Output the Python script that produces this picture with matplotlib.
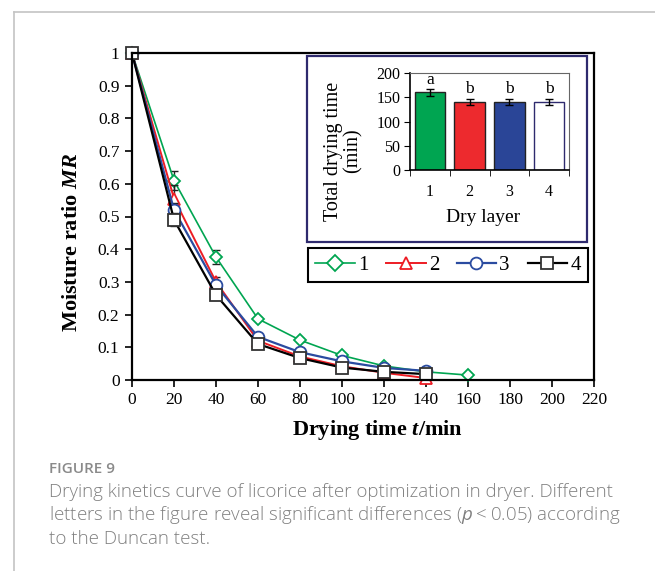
import numpy as np
import matplotlib
matplotlib.use('Agg')
import matplotlib.pyplot as plt
from matplotlib.patches import Rectangle
from matplotlib.lines import Line2D

plt.rcParams['font.family'] = ['Liberation Serif', 'DejaVu Serif']
plt.rcParams['mathtext.fontset'] = 'custom'
plt.rcParams['mathtext.bfit'] = 'Liberation Serif:bold:italic'
plt.rcParams['mathtext.it'] = 'Open Sans:italic'
plt.rcParams['mathtext.rm'] = 'Open Sans'

# drying curves
time = [0, 20, 40, 60, 80, 100, 120, 140, 160]
mr1 = [1, 0.61, 0.376, 0.187, 0.122, 0.075, 0.043, 0.025, 0.015]
mr2 = [1, 0.555, 0.30, 0.12, 0.072, 0.042, 0.022, 0.006]
mr3 = [1, 0.52, 0.29, 0.132, 0.085, 0.057, 0.037, 0.028]
mr4 = [1, 0.49, 0.26, 0.11, 0.067, 0.038, 0.025, 0.018]
err1 = [0, 0.03, 0.022, 0.005, 0.005, 0.004, 0.003, 0.002, 0.002]
err2 = [0, 0.04, 0.015, 0.005, 0.004, 0.003, 0.002, 0.002]
err3 = [0, 0.02, 0.01, 0.005, 0.004, 0.003, 0.002, 0.002]
err4 = [0, 0.02, 0.01, 0.005, 0.004, 0.003, 0.002, 0.002]
series = ['1', '2', '3', '4']

# inset bars
layers = [1, 2, 3, 4]
total_time = [160, 140, 140, 140]
total_err = [7, 7, 7, 7]
letters = ['a', 'b', 'b', 'b']

W, H = 655, 571
fig = plt.figure(figsize=(W / 100, H / 100), dpi=100)

def fx(px):
    return px / W

def fy(py):
    return 1 - py / H

# page border
fig.add_artist(Line2D([fx(14), fx(14)], [0, fy(12)], color='#c4c4c4', lw=1.2))
fig.add_artist(Line2D([fx(14), 1], [fy(12), fy(12)], color='#c4c4c4', lw=1.2))

ax = fig.add_axes([fx(132), fy(380), fx(594) - fx(132), fy(53) - fy(380)])

styles = [
    (mr1, err1, '#00a551', 'D', 1.2, 6.5),
    (mr2, err2, '#ed1c24', '^', 1.4, 8),
    (mr3, err3, '#2a4ba0', 'o', 1.6, 8.5),
    (mr4, err4, '#000000', 's', 1.6, 8),
]
for (mr, er, col, mk, lw, ms), name in zip(styles, series):
    x = time[:len(mr)]
    ax.errorbar(x, mr, yerr=er, fmt='none', ecolor='#222222', elinewidth=1, capsize=3,
                clip_on=False)
    ax.plot(x, mr, color=col, marker=mk, markersize=ms, lw=lw,
            markerfacecolor='white', markeredgecolor=col if col != '#000000' else '#333333',
            markeredgewidth=1.3, label=name, clip_on=False)

ax.set_xlim(0, 220)
ax.set_ylim(0, 1)
ax.set_xticks(np.arange(0, 221, 20))
ax.set_yticks(np.arange(0, 1.01, 0.1))
ax.set_yticklabels(['0'] + ['%.1f' % v for v in np.arange(0.1, 0.95, 0.1)] + ['1'])
ax.tick_params(direction='out', length=5, width=1.2, labelsize=12.5, pad=4)
for s in ax.spines.values():
    s.set_linewidth(1.6)

fig.text(fx(378), fy(430), r'Drying time $\mathbfit{t}$/min', ha='center', va='center',
         fontsize=16, fontweight='bold')
fig.text(fx(72), fy(242), r'Moisture ratio $\mathbfit{MR}$', ha='center', va='center',
         rotation=90, fontsize=16, fontweight='bold')

# legend
leg = ax.legend(loc='center', ncol=4, mode='expand',
                bbox_to_anchor=(fx(308), fy(283), fx(588) - fx(308), fy(247) - fy(283)),
                bbox_transform=fig.transFigure, fancybox=False, edgecolor='black', fontsize=15,
                handlelength=1.9, handletextpad=0.15, columnspacing=0.5, borderaxespad=0,
                borderpad=0.35, framealpha=1)
leg.get_frame().set_linewidth(1.5)
for h in leg.legend_handles:
    h.set_markersize(8.5)

# inset frame
fig.add_artist(Rectangle((fx(307), fy(242)), fx(587) - fx(307), fy(56) - fy(242),
                         transform=fig.transFigure, fill=True, facecolor='white',
                         edgecolor='#2e2a6e', lw=1.6, zorder=3))

bx = fig.add_axes([fx(410), fy(170), fx(569) - fx(410), fy(73) - fy(170)], zorder=4)
bar_cols = ['#00a551', '#ed2a2e', '#2a4597', 'white']
edge_cols = ['#222222', '#222222', '#222222', '#2e2a6e']
bx.bar(layers, total_time, width=0.77, color=bar_cols, edgecolor=edge_cols, lw=1)
bx.errorbar(layers, total_time, yerr=total_err, fmt='none', ecolor='black',
            elinewidth=1, capsize=3)
for xv, yv, ev, lt in zip(layers, total_time, total_err, letters):
    bx.text(xv, yv + ev + 3, lt, ha='center', va='bottom', fontsize=12.5)
bx.set_xlim(0.5, 4.5)
bx.set_ylim(0, 200)
bx.set_yticks([0, 50, 100, 150, 200])
bx.set_xticks(layers)
bx.set_xticks([0.5, 1.5, 2.5, 3.5, 4.5], minor=True)
bx.tick_params(axis='x', which='major', length=0, labelsize=11.5, pad=10)
bx.tick_params(axis='x', which='minor', direction='out', length=4)
bx.tick_params(axis='y', direction='out', length=4, labelsize=11.5, pad=3)
bx.spines['top'].set_color('#666666')
bx.spines['right'].set_color('#666666')
bx.spines['left'].set_linewidth(1.2)
bx.spines['bottom'].set_linewidth(1.2)
fig.text(fx(343), fy(151), 'Total drying time\n(min)', ha='center', va='center',
         rotation=90, fontsize=14.5, linespacing=1.0, zorder=5)
fig.text(fx(483), fy(217), 'Dry layer', ha='center', va='center', fontsize=14, zorder=5)

# caption
cap_col = '#808080'
fig.text(fx(49), fy(469), 'FIGURE 9', ha='left', va='center', fontsize=11,
         family='Open Sans', fontweight='semibold', color='#8a8a8a')
cap_lines = ['Drying kinetics curve of licorice after optimization in dryer. Different',
             'letters in the figure reveal significant differences ($\\mathit{p}$\u2009<\u20090.05) according',
             'to the Duncan test.']
for i, line in enumerate(cap_lines):
    fig.text(fx(49), fy(492 + 23.5 * i), line, ha='left', va='center', fontsize=13.5,
             family='Open Sans', fontweight='light', color=cap_col)

fig.savefig('out.png', dpi=100)
